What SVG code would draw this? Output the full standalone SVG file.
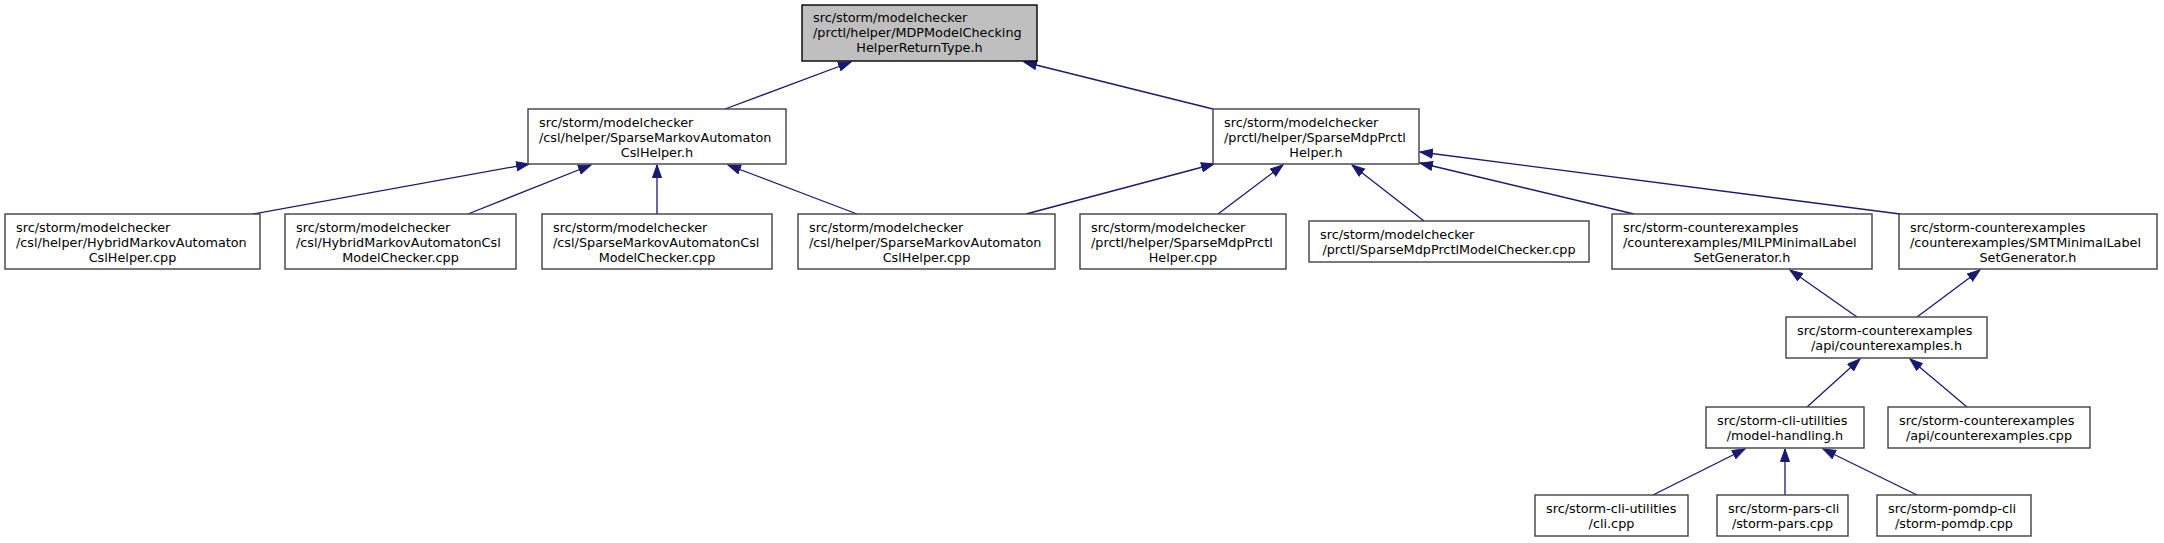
<svg xmlns="http://www.w3.org/2000/svg" width="2164" height="543" viewBox="0 0 2164 543">
<style>
.n rect{fill:#ffffff;stroke:#404040;stroke-width:1.4}
.root rect{fill:#bfbfbf;stroke:#000000;stroke-width:1.4}
text{font-family:"DejaVu Sans",sans-serif;font-size:12.8px;fill:#000}
.c{text-anchor:middle}
#edges path{fill:none;stroke:#191970;stroke-width:1.3;marker-end:url(#arr)}
</style>
<defs>
<marker id="arr" markerUnits="userSpaceOnUse" markerWidth="14" markerHeight="11" refX="13" refY="5" orient="auto">
<path d="M0.5,0.5 L13,5 L0.5,9.5 z" fill="#191970" stroke="#191970" stroke-width="1"/>
</marker>
</defs>
<rect width="2164" height="543" fill="#ffffff"/>
<g id="edges">
<path d="M725,109 L851,62"/>
<path d="M1213,109 L1024,62"/>
<path d="M253,214 L529,164"/>
<path d="M468,214 L591,165"/>
<path d="M657,214 L657,165"/>
<path d="M857,214 L728,165"/>
<path d="M1026,214 L1214,164"/>
<path d="M1218,214 L1283,165"/>
<path d="M1424,221 L1352,165"/>
<path d="M1634,214 L1420,163"/>
<path d="M1900,214 L1420,152"/>
<path d="M1857,317 L1790,270"/>
<path d="M1917,317 L1980,270"/>
<path d="M1807,407 L1860,359"/>
<path d="M1967,407 L1910,359"/>
<path d="M1653,495 L1745,449"/>
<path d="M1785,495 L1785,449"/>
<path d="M1917,495 L1823,449"/>
</g>
<g id="node_root" class="root">
<rect x="802" y="5" width="235" height="56"/>
<text x="813" y="22">src/storm/modelchecker</text>
<text x="813" y="37">/prctl/helper/MDPModelChecking</text>
<text class="c" x="919.5" y="52">HelperReturnType.h</text>
</g>
<g id="node_smacslhelper_h" class="n">
<rect x="528" y="109" width="258" height="55"/>
<text x="539" y="126.5">src/storm/modelchecker</text>
<text x="539" y="141.5">/csl/helper/SparseMarkovAutomaton</text>
<text class="c" x="657" y="156.5">CslHelper.h</text>
</g>
<g id="node_smdpprctlhelper_h" class="n">
<rect x="1213" y="109" width="206" height="55"/>
<text x="1224" y="126.5">src/storm/modelchecker</text>
<text x="1224" y="141.5">/prctl/helper/SparseMdpPrctl</text>
<text class="c" x="1316" y="156.5">Helper.h</text>
</g>
<g id="node_hybridcslhelper_cpp" class="n">
<rect x="5" y="214" width="255" height="55"/>
<text x="16" y="231.5">src/storm/modelchecker</text>
<text x="16" y="246.5">/csl/helper/HybridMarkovAutomaton</text>
<text class="c" x="132.5" y="261.5">CslHelper.cpp</text>
</g>
<g id="node_hybridmc_cpp" class="n">
<rect x="285" y="214" width="231" height="55"/>
<text x="296" y="231.5">src/storm/modelchecker</text>
<text x="296" y="246.5">/csl/HybridMarkovAutomatonCsl</text>
<text class="c" x="400.5" y="261.5">ModelChecker.cpp</text>
</g>
<g id="node_sparsemamc_cpp" class="n">
<rect x="542" y="214" width="230" height="55"/>
<text x="553" y="231.5">src/storm/modelchecker</text>
<text x="553" y="246.5">/csl/SparseMarkovAutomatonCsl</text>
<text class="c" x="657" y="261.5">ModelChecker.cpp</text>
</g>
<g id="node_smacslhelper_cpp" class="n">
<rect x="798" y="214" width="257" height="55"/>
<text x="809" y="231.5">src/storm/modelchecker</text>
<text x="809" y="246.5">/csl/helper/SparseMarkovAutomaton</text>
<text class="c" x="926.5" y="261.5">CslHelper.cpp</text>
</g>
<g id="node_smdpprctlhelper_cpp" class="n">
<rect x="1080" y="214" width="206" height="55"/>
<text x="1091" y="231.5">src/storm/modelchecker</text>
<text x="1091" y="246.5">/prctl/helper/SparseMdpPrctl</text>
<text class="c" x="1183" y="261.5">Helper.cpp</text>
</g>
<g id="node_smdpprctlmc_cpp" class="n">
<rect x="1309" y="221" width="280" height="41"/>
<text x="1320" y="238.5">src/storm/modelchecker</text>
<text class="c" x="1449" y="253.5">/prctl/SparseMdpPrctlModelChecker.cpp</text>
</g>
<g id="node_milp_h" class="n">
<rect x="1612" y="214" width="260" height="55"/>
<text x="1623" y="231.5">src/storm-counterexamples</text>
<text x="1623" y="246.5">/counterexamples/MILPMinimalLabel</text>
<text class="c" x="1742" y="261.5">SetGenerator.h</text>
</g>
<g id="node_smt_h" class="n">
<rect x="1899" y="214" width="258" height="55"/>
<text x="1910" y="231.5">src/storm-counterexamples</text>
<text x="1910" y="246.5">/counterexamples/SMTMinimalLabel</text>
<text class="c" x="2028" y="261.5">SetGenerator.h</text>
</g>
<g id="node_cex_h" class="n">
<rect x="1786" y="317" width="201" height="41"/>
<text x="1797" y="334.5">src/storm-counterexamples</text>
<text class="c" x="1886.5" y="349.5">/api/counterexamples.h</text>
</g>
<g id="node_modelhandling_h" class="n">
<rect x="1706" y="407" width="158" height="41"/>
<text x="1717" y="424.5">src/storm-cli-utilities</text>
<text class="c" x="1785" y="439.5">/model-handling.h</text>
</g>
<g id="node_cex_cpp" class="n">
<rect x="1888" y="407" width="202" height="41"/>
<text x="1899" y="424.5">src/storm-counterexamples</text>
<text class="c" x="1989" y="439.5">/api/counterexamples.cpp</text>
</g>
<g id="node_cli_cpp" class="n">
<rect x="1535" y="495" width="153" height="41"/>
<text x="1546" y="512.5">src/storm-cli-utilities</text>
<text class="c" x="1611.5" y="527.5">/cli.cpp</text>
</g>
<g id="node_pars_cpp" class="n">
<rect x="1717" y="495" width="131" height="41"/>
<text x="1728" y="512.5">src/storm-pars-cli</text>
<text class="c" x="1782.5" y="527.5">/storm-pars.cpp</text>
</g>
<g id="node_pomdp_cpp" class="n">
<rect x="1877" y="495" width="154" height="41"/>
<text x="1888" y="512.5">src/storm-pomdp-cli</text>
<text class="c" x="1954" y="527.5">/storm-pomdp.cpp</text>
</g>
</svg>
